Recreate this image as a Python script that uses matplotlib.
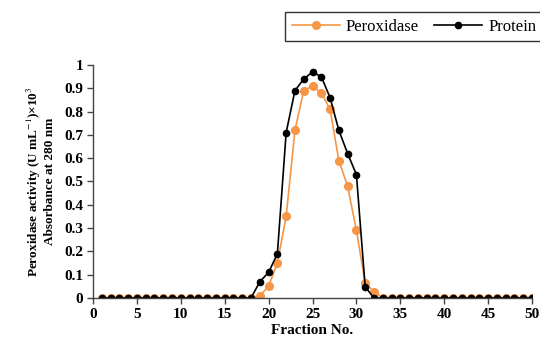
import matplotlib
matplotlib.use('Agg')
import matplotlib.pyplot as plt
from matplotlib.ticker import MultipleLocator, FuncFormatter

plt.rcParams['font.family'] = 'Liberation Serif'
plt.rcParams['mathtext.fontset'] = 'stix'

fractions = list(range(1, 51))

peroxidase = [0] * 18 + [0.01, 0.05, 0.15, 0.35, 0.72, 0.89, 0.91, 0.88, 0.81,
                         0.59, 0.48, 0.29, 0.065, 0.027] + [0] * 18
protein = [0] * 18 + [0.07, 0.11, 0.19, 0.71, 0.89, 0.94, 0.97, 0.95, 0.86,
                      0.72, 0.62, 0.53, 0.048, 0] + [0] * 18

orange = '#F79646'

fig = plt.figure(figsize=(5.4, 3.4), dpi=100)
ax = fig.add_axes([93 / 540, 42 / 340, 439 / 540, 233 / 340])

ax.plot(fractions, peroxidase, color=orange, lw=1.2, marker='o', ms=5.5,
        label='Peroxidase')
ax.plot(fractions, protein, color='black', lw=1.2, marker='o', ms=4.5,
        label='Protein')

ax.set_xlim(0, 50)
ax.set_ylim(0, 1)
ax.xaxis.set_major_locator(MultipleLocator(5))
ax.yaxis.set_major_locator(MultipleLocator(0.1))
ax.yaxis.set_major_formatter(FuncFormatter(lambda v, p: '%g' % round(v, 1)))

for s in ['top', 'right']:
    ax.spines[s].set_visible(False)
for s in ['left', 'bottom']:
    ax.spines[s].set_color('#444444')
    ax.spines[s].set_linewidth(1.0)

ax.tick_params(direction='out', length=4, width=1, color='#444444',
               labelsize=11, pad=3)
for lab in ax.get_xticklabels() + ax.get_yticklabels():
    lab.set_fontweight('bold')

ax.set_xlabel('Fraction No.', fontsize=11, fontweight='bold', labelpad=2)
ax.set_ylabel('Peroxidase activity (U mL$^{-1}$)×10$^{3}$\nAbsorbance at 280 nm',
              fontsize=9.5, fontweight='bold', labelpad=6, linespacing=1.1)

leg = fig.legend(loc='upper left', bbox_to_anchor=(285 / 540, 1 - 12 / 340),
                 ncol=2, fontsize=12, frameon=True, fancybox=False,
                 borderpad=0.4, handlelength=2.9, columnspacing=0.9,
                 handletextpad=0.35, borderaxespad=0)
leg.get_frame().set_edgecolor('black')
leg.get_frame().set_linewidth(1.0)

fig.savefig('out.png', dpi=100)
